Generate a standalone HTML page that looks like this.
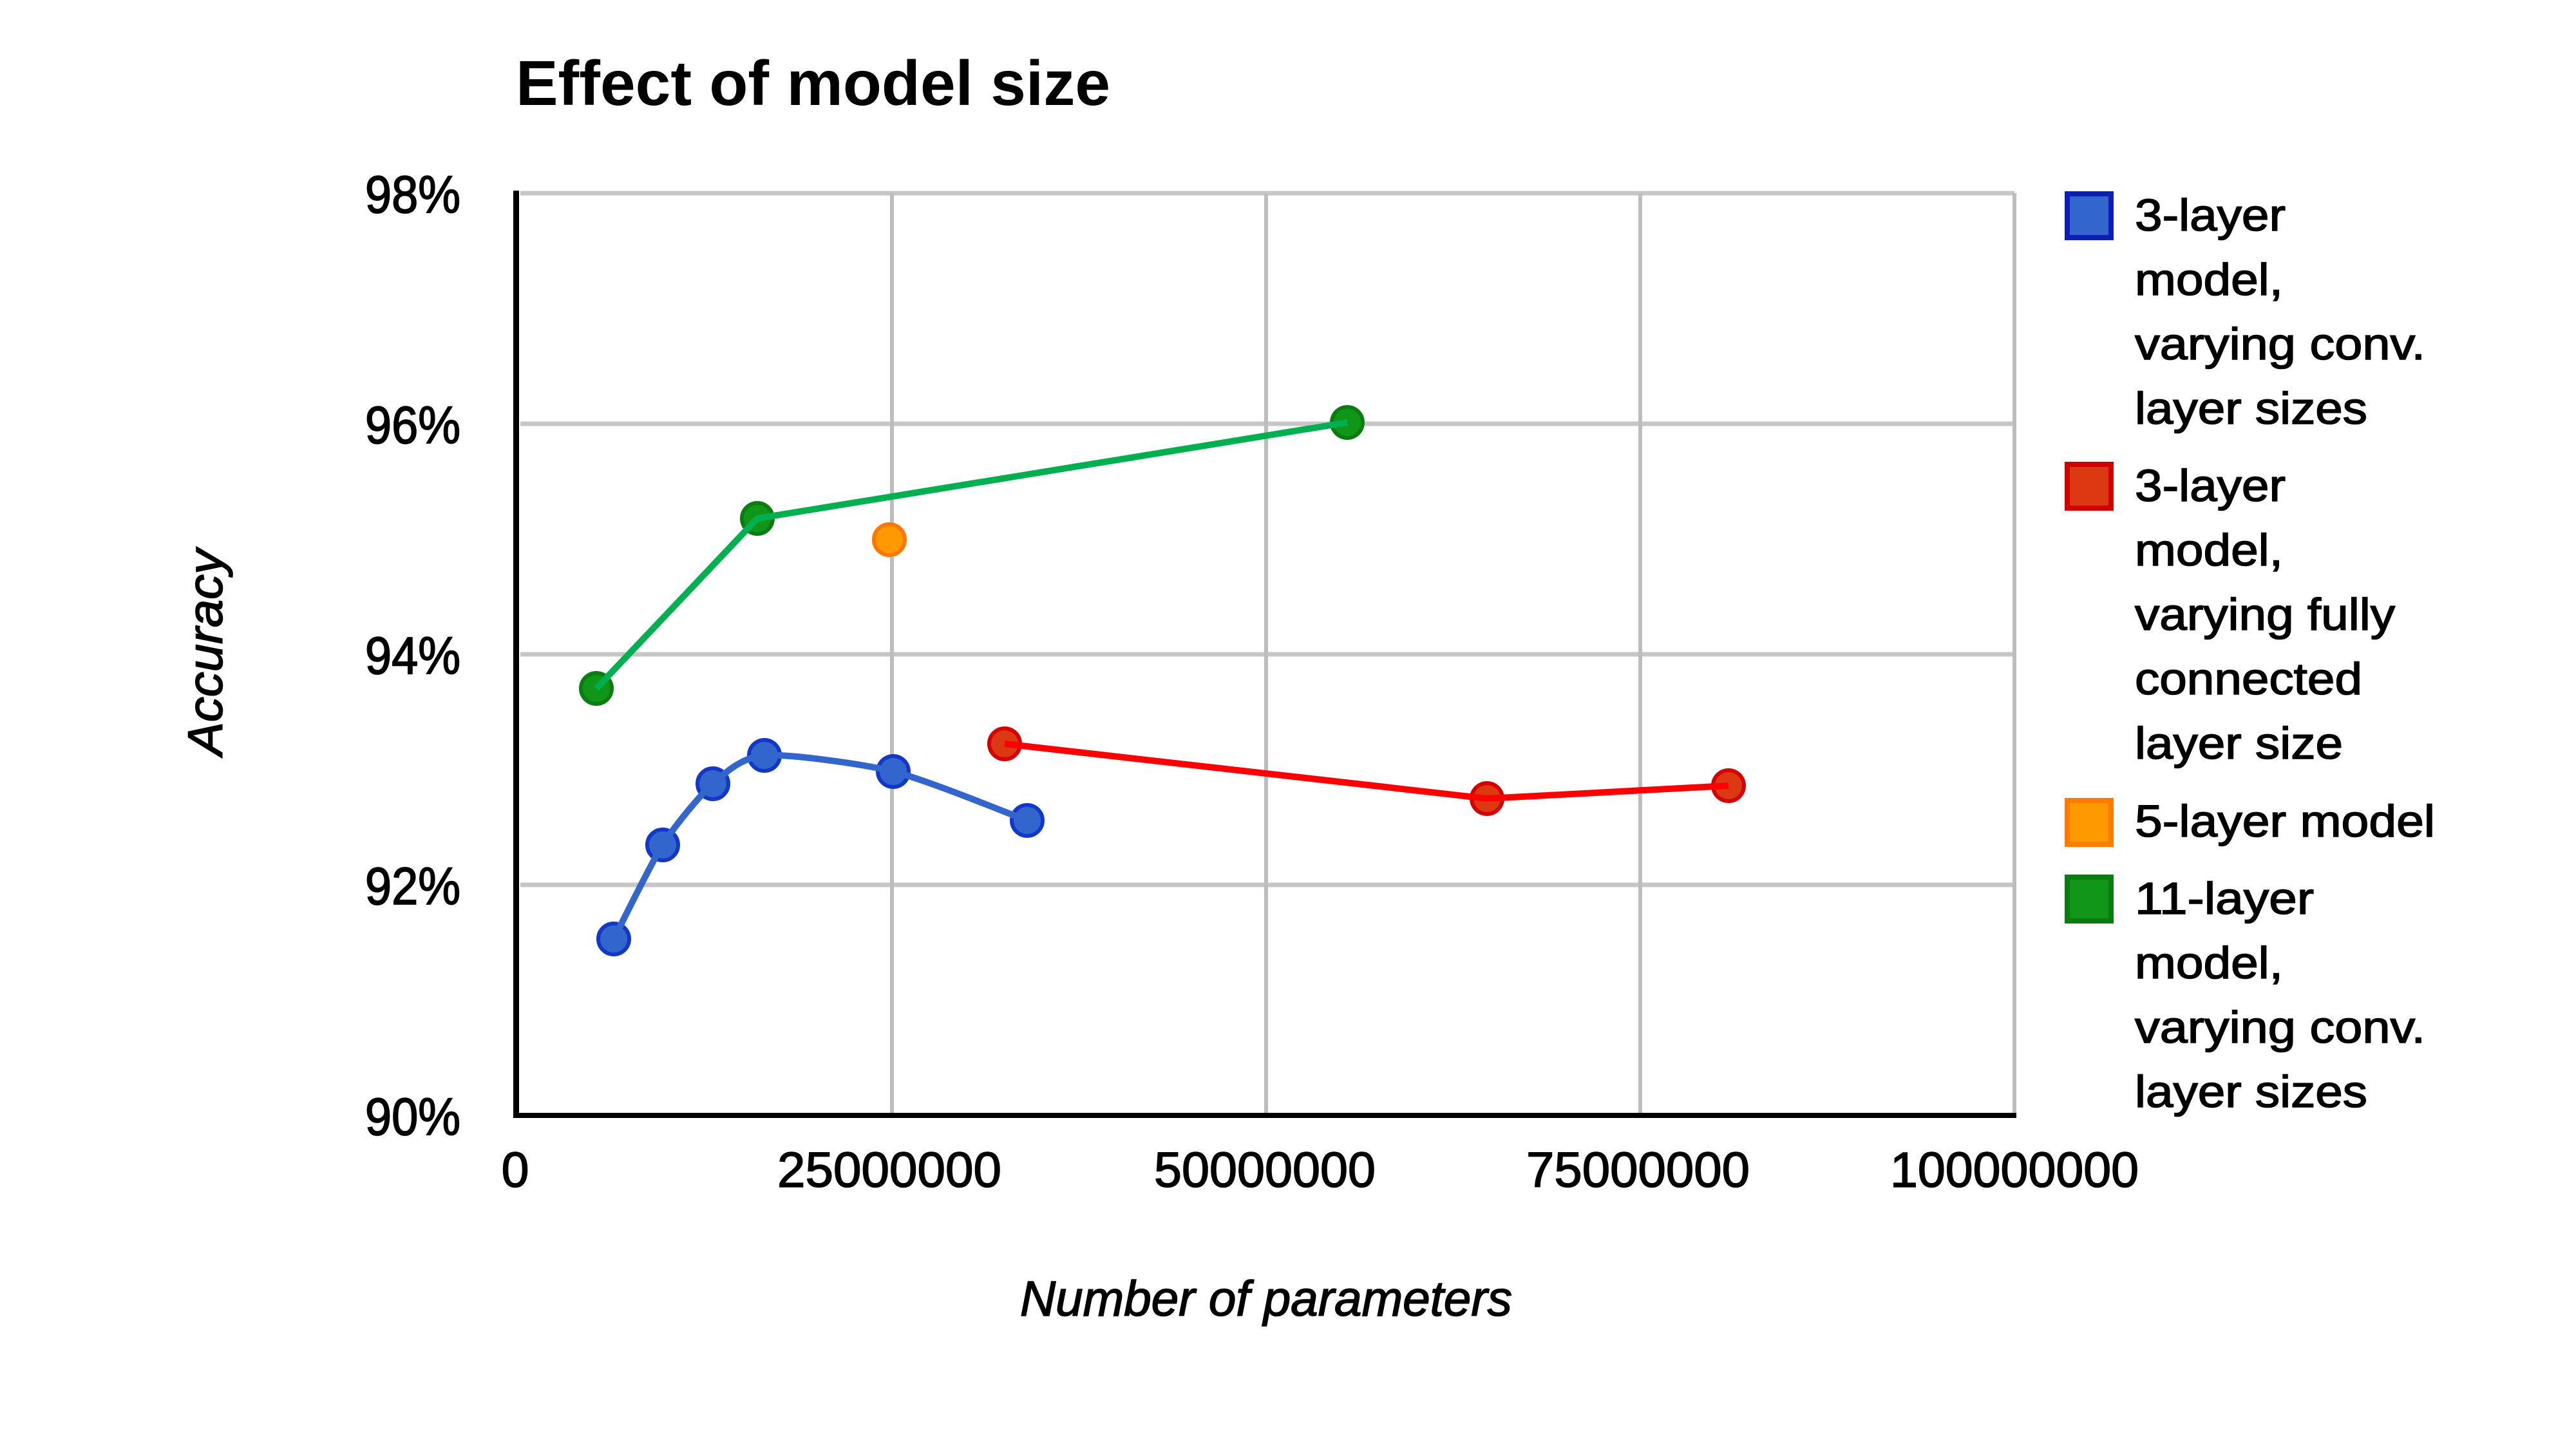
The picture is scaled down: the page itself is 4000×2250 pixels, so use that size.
<!DOCTYPE html>
<html>
<head>
<meta charset="utf-8">
<style>
html,body{margin:0;padding:0;background:#fff;}
svg{display:block;}
text{font-family:"Liberation Sans",Arial,sans-serif;fill:#000;}
.t{stroke:#000;stroke-width:1.6px;}
</style>
</head>
<body>
<svg width="4000" height="2250" viewBox="0 0 4000 2250" xmlns="http://www.w3.org/2000/svg">
<rect x="0" y="0" width="4000" height="2250" fill="#fff"/>

<!-- Title -->
<text x="801" y="163" font-size="98" font-weight="bold" textLength="923" lengthAdjust="spacingAndGlyphs">Effect of model size</text>

<!-- gridlines -->
<g stroke="#c6c6c6" stroke-width="7">
  <line x1="808" y1="300" x2="3128" y2="300"/>
  <line x1="808" y1="658" x2="3128" y2="658"/>
  <line x1="808" y1="1016" x2="3128" y2="1016"/>
  <line x1="808" y1="1374" x2="3128" y2="1374"/>
</g>
<g stroke="#bdbdbd" stroke-width="6">
  <line x1="1385" y1="300" x2="1385" y2="1732"/>
  <line x1="1966" y1="300" x2="1966" y2="1732"/>
  <line x1="2547" y1="300" x2="2547" y2="1732"/>
  <line x1="3128" y1="300" x2="3128" y2="1732"/>
</g>

<!-- axes -->
<rect x="797" y="296" width="9" height="1440" fill="#000"/>
<rect x="797" y="1728" width="2334" height="8" fill="#000"/>

<!-- Y tick labels -->
<g font-size="74" text-anchor="end" class="t">
  <g transform="translate(715,330) scale(1,1.1)"><text x="0" y="0" class="t">98%</text></g>
  <g transform="translate(715,688) scale(1,1.1)"><text x="0" y="0" class="t">96%</text></g>
  <g transform="translate(715,1046) scale(1,1.1)"><text x="0" y="0" class="t">94%</text></g>
  <g transform="translate(715,1404) scale(1,1.1)"><text x="0" y="0" class="t">92%</text></g>
  <g transform="translate(715,1762) scale(1,1.1)"><text x="0" y="0" class="t">90%</text></g>
</g>

<!-- X tick labels -->
<g font-size="77">
  <text class="t" x="800" y="1843" text-anchor="middle">0</text>
  <text class="t" x="1207" y="1843" textLength="348" lengthAdjust="spacingAndGlyphs">25000000</text>
  <text class="t" x="1792" y="1843" textLength="344" lengthAdjust="spacingAndGlyphs">50000000</text>
  <text class="t" x="2370" y="1843" textLength="347" lengthAdjust="spacingAndGlyphs">75000000</text>
  <text class="t" x="2935" y="1843" textLength="386" lengthAdjust="spacingAndGlyphs">100000000</text>
</g>

<!-- Axis titles -->
<text class="t" x="1584" y="2043" font-size="77" font-style="italic" textLength="764" lengthAdjust="spacingAndGlyphs">Number of parameters</text>
<g transform="translate(345,1173) rotate(-90)">
  <text class="t" x="0" y="0" font-size="76" font-style="italic" textLength="320" lengthAdjust="spacingAndGlyphs">Accuracy</text>
</g>

<!-- markers -->
<g stroke-width="6">
  <g fill="#3366cc" stroke="#1138c8">
    <circle cx="953" cy="1458" r="24"/>
    <circle cx="1029" cy="1312" r="24"/>
    <circle cx="1107" cy="1217" r="24"/>
    <circle cx="1187" cy="1173" r="24"/>
    <circle cx="1387" cy="1198" r="24"/>
    <circle cx="1595" cy="1274" r="24"/>
  </g>
  <g fill="#dc3912" stroke="#d40000">
    <circle cx="1560" cy="1155" r="24"/>
    <circle cx="2309" cy="1240" r="24"/>
    <circle cx="2684" cy="1220" r="24"/>
  </g>
  <g fill="#109618" stroke="#0a7d10">
    <circle cx="926" cy="1069" r="24"/>
    <circle cx="1176" cy="805" r="24"/>
    <circle cx="2092" cy="656" r="24"/>
  </g>
  <circle cx="1381" cy="838" r="24" fill="#ff9900" stroke="#ff7700"/>
</g>

<!-- lines -->
<g fill="none" stroke-width="10" stroke-linejoin="round" stroke-linecap="butt">
  <path stroke="#3366cc" d="M953,1458 C962.5,1439.8 1010,1342.1 1029,1312 C1048,1281.9 1087.3,1234.4 1107,1217 C1126.7,1199.6 1152,1175.6 1187,1173 C1222,1170.4 1336,1185.4 1387,1198 C1438,1210.6 1569,1264.5 1595,1274"/>
  <polyline stroke="#ff0000" points="1560,1155 2309,1240 2684,1220"/>
  <polyline stroke="#00b050" points="926,1069 1176,805 2092,656"/>
</g>

<!-- Legend -->
<g stroke-width="8">
  <rect x="3210" y="301" width="68" height="68" fill="#3366cc" stroke="#0a1fb8"/>
  <rect x="3210" y="721" width="68" height="68" fill="#dc3912" stroke="#d00000"/>
  <rect x="3210" y="1243" width="68" height="68" fill="#ff9900" stroke="#ff7a00"/>
  <rect x="3210" y="1362" width="68" height="68" fill="#109618" stroke="#0b7d10"/>
</g>
<g font-size="70">
  <text class="t" x="3315" y="358" textLength="234" lengthAdjust="spacingAndGlyphs">3-layer</text>
  <text class="t" x="3315" y="458" textLength="230" lengthAdjust="spacingAndGlyphs">model,</text>
  <text class="t" x="3315" y="558" textLength="451" lengthAdjust="spacingAndGlyphs">varying conv.</text>
  <text class="t" x="3315" y="658" textLength="361" lengthAdjust="spacingAndGlyphs">layer sizes</text>

  <text class="t" x="3315" y="778" textLength="234" lengthAdjust="spacingAndGlyphs">3-layer</text>
  <text class="t" x="3315" y="878" textLength="230" lengthAdjust="spacingAndGlyphs">model,</text>
  <text class="t" x="3315" y="978" textLength="404" lengthAdjust="spacingAndGlyphs">varying fully</text>
  <text class="t" x="3315" y="1078" textLength="353" lengthAdjust="spacingAndGlyphs">connected</text>
  <text class="t" x="3315" y="1178" textLength="323" lengthAdjust="spacingAndGlyphs">layer size</text>

  <text class="t" x="3315" y="1299" textLength="466" lengthAdjust="spacingAndGlyphs">5-layer model</text>

  <text class="t" x="3315" y="1419" textLength="278" lengthAdjust="spacingAndGlyphs">11-layer</text>
  <text class="t" x="3315" y="1519" textLength="230" lengthAdjust="spacingAndGlyphs">model,</text>
  <text class="t" x="3315" y="1619" textLength="451" lengthAdjust="spacingAndGlyphs">varying conv.</text>
  <text class="t" x="3315" y="1719" textLength="361" lengthAdjust="spacingAndGlyphs">layer sizes</text>
</g>
</svg>
</body>
</html>
